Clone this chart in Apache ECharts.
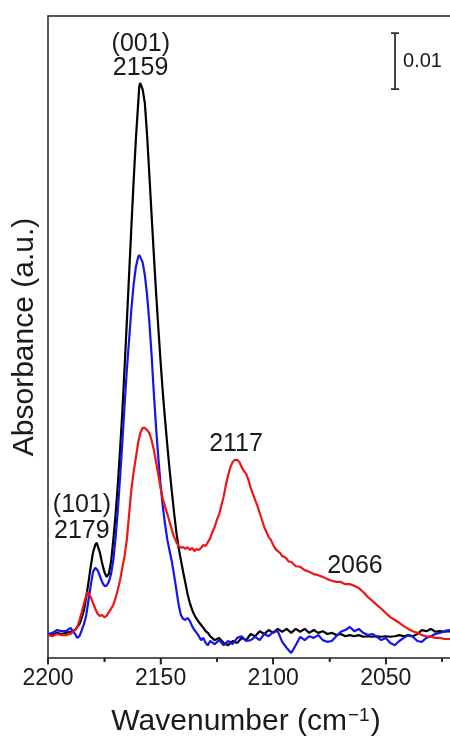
<!DOCTYPE html>
<html>
<head>
<meta charset="utf-8">
<script src="https://cdn.jsdelivr.net/npm/echarts@6/dist/echarts.min.js"></script>
<style>
html,body{margin:0;padding:0;background:#fff;}
#chart{width:450px;height:738px;}
</style>
</head>
<body>
<div id="chart"></div>
<script>
// Absorbance values in units of 1e-3 (mA); wavenumber in cm^-1
const blackSpectrum = [
[2200,0],[2198,-0.2],[2196,0.2],[2194,0],[2192,0.2],[2190,0.4],[2188,0.7],[2186,1.8],[2185,2.9],[2184,4.3],
[2183,6.6],[2182,9.3],[2181,12.1],[2180,14.6],[2179,15.9],[2178.4,16.3],[2178,16.1],[2177,14.6],[2176,12.7],[2175,11.1],
[2174,10.2],[2173,10.7],[2172,12.9],[2171,16.8],[2170,21.3],[2169,26.6],[2168,32.9],[2167,39.6],[2166,47.5],[2165,55.7],
[2164,64.1],[2163,72.5],[2162,80.7],[2161,88.2],[2160,94.5],[2159.5,97.6],[2159.1,98.4],[2158.6,98.2],[2158,97.3],[2157,94.8],[2156,89.1],
[2155,82.0],[2154,74.8],[2153,67.7],[2152,60.9],[2151,54.6],[2150,48.6],[2149,43.0],[2148,38.2],[2147,33.6],[2146,29.3],
[2145,25.4],[2144,21.6],[2143,18.2],[2142,15.4],[2141,13.2],[2140,11.1],[2139,9.1],[2138,7.1],[2137,5.5],[2136,4.3],
[2135,3.4],[2134,2.7],[2133,2.1],[2132,1.6],[2131,1.1],[2130,0.5],[2129,0.2],[2128,-0.4],[2126,-1.1],[2124,-0.7],
[2122,-1.6],[2120,-2.0],[2118,-1.25],[2116,-1.6],[2114,-0.7],[2112,-1.1],[2110,0],[2108,-0.4],[2106,0.5],[2104,0],
[2102,0.7],[2100,0.2],[2098,0.9],[2096,0.4],[2094,0.9],[2092,0.2],[2090,0.9],[2088,0.4],[2086,0.9],[2084,0.2],
[2082,0.7],[2080,0.2],[2078,0.5],[2076,0],[2074,0.2],[2072,-0.2],[2070,0],[2068,-0.4],[2066,-0.2],[2064,-0.4],
[2062,-0.2],[2060,-0.5],[2058,-0.4],[2056,-0.5],[2054,-0.4],[2052,-0.5],[2050,-0.4],[2048,-0.5],[2046,-0.4],[2044,-0.2],
[2042,-0.4],[2040,-0.2],[2038,-0.4],[2036,0],[2034,0.7],[2032,0.5],[2030,0.9],[2028,0.4],[2026,0.5],[2024,0.4],
[2022,0.5],[2020,0.4]
];
const blueSpectrum = [
[2200,0],[2198,0.2],[2196,0.7],[2194,0.5],[2192,0.5],[2190,1.1],[2188,0],[2187,-0.7],[2186,-0.4],[2185,0.7],
[2184,1.8],[2183,3.4],[2182,6.1],[2181,8.75],[2180,11.1],[2179,11.8],[2178,11.4],[2177,10.4],[2176,9.3],[2175,8.6],
[2174.5,8.4],[2174,8.6],[2173,9.3],[2172,10.7],[2171,13.2],[2170,17.1],[2169,22.1],[2168,27.9],[2167,34.1],[2166,40.9],
[2165,47.1],[2164,52.5],[2163,57.9],[2162,62.3],[2161,65.5],[2160,67.3],[2159.5,67.7],[2159,67.5],[2158,66.4],[2157,64.1],
[2156,60.5],[2155,55.7],[2154,49.8],[2153,43.0],[2152,36.8],[2151,31.4],[2150,26.6],[2149,22.7],[2148,19.5],[2147,16.8],
[2146,14.8],[2145,12.9],[2144,10.5],[2143,7.9],[2142,5.2],[2141,3.4],[2140,2.7],[2139,2.5],[2138,2.9],[2137,2.3],
[2136,1.4],[2135,0.7],[2134,0.2],[2133,-0.4],[2132,-1.1],[2131,-0.7],[2130,-1.6],[2129,-2.0],[2128,-1.25],[2126,-1.8],
[2124,-1.1],[2122,-2.0],[2120,-1.25],[2118,-1.8],[2116,-0.7],[2114,-0.4],[2112,-1.25],[2110,-1.1],[2108,-0.5],[2106,-1.1],
[2104,0],[2102,-0.4],[2100,0.4],[2098,0.5],[2096,-1.4],[2094,-2.5],[2092,-3.4],[2090,-2.0],[2088,-0.5],[2086,-1.1],
[2084,-0.4],[2082,-0.7],[2080,-0.2],[2078,-1.1],[2076,-1.4],[2074,-1.25],[2072,-0.4],[2070,0.4],[2068,0.7],[2066,1.25],
[2064,0.5],[2062,0.9],[2060,0.2],[2058,-0.2],[2056,0],[2054,-0.5],[2052,-1.1],[2050,-0.7],[2048,-1.6],[2046,-2.0],
[2044,-1.25],[2042,-0.7],[2040,-0.2],[2038,-0.5],[2036,-1.25],[2034,-1.4],[2032,-0.7],[2030,-0.4],[2028,0],[2026,0.2],
[2024,0.5],[2022,0.7],[2020,0.5]
];
const redSpectrum = [
[2200,-0.2],[2198,-0.4],[2196,0],[2194,-0.2],[2192,-0.2],[2190,0],[2188,0.7],[2187,1.25],[2186,2.5],[2185,3.9],
[2184,5.5],[2183,7.0],[2182.5,7.5],[2182,7.3],[2181,6.6],[2180,5.5],[2179,4.5],[2178,3.6],[2177,3.2],[2176,3.4],
[2175,3.0],[2174,3.2],[2173,3.9],[2172,4.5],[2171,5.2],[2170,6.4],[2169,7.9],[2168,9.6],[2167,11.8],[2166,13.9],
[2165,16.8],[2164,21.3],[2163,25.7],[2162,28.9],[2161,31.4],[2160,34.1],[2159,35.9],[2158,36.8],[2157.6,37.0],[2157,36.8],
[2156,36.4],[2155,35.9],[2154,34.6],[2153,32.9],[2152,30.7],[2151,28.4],[2150,26.1],[2149,24.1],[2148,22.7],[2147,21.4],
[2146,20.0],[2145,18.6],[2144,17.3],[2143,16.4],[2142,15.7],[2141,15.4],[2140,15.5],[2139,15.2],[2138,15.5],[2137,15.0],
[2136,15.4],[2135,14.8],[2134,15.2],[2133,15.0],[2132,15.4],[2131,15.9],[2130,15.7],[2129,16.4],[2128,17.1],[2127,18.2],
[2126,19.1],[2125,20.4],[2124,21.4],[2123,23.0],[2122,24.5],[2121,26.6],[2120,28.4],[2119,29.8],[2118,30.7],[2117,31.1],
[2116,31.1],[2115,30.7],[2114,29.8],[2113,29.1],[2112,28.6],[2111,27.5],[2110,26.1],[2109,25.0],[2108,23.9],[2107,22.9],
[2106,21.6],[2105,20.4],[2104,19.1],[2103,18.2],[2102,17.3],[2101,16.8],[2100,15.9],[2099,15.2],[2098,14.8],[2097,14.5],
[2096,13.9],[2095,13.75],[2094,13.4],[2093,12.9],[2092,12.9],[2091,12.5],[2090,12.1],[2088,12.0],[2086,11.4],[2084,11.1],
[2082,10.7],[2080,10.5],[2078,10.2],[2076,9.8],[2074,9.5],[2072,9.3],[2070,9.3],[2068,8.9],[2066,8.9],[2064,8.6],
[2062,8.2],[2060,7.5],[2058,6.6],[2056,5.9],[2054,5.2],[2052,4.5],[2050,3.75],[2048,3.0],[2046,2.5],[2044,2.0],
[2042,1.4],[2040,0.9],[2038,0.5],[2036,0.2],[2034,-0.2],[2032,-0.4],[2030,-0.5],[2028,-0.7],[2026,-0.7],[2024,-0.9],
[2022,-0.9],[2020,-0.9]
];
// peak annotations: text and position [wavenumber, absorbance(mA)]
const peakLabelTexts = ['(001)', '2159', '(101)', '2179', '2117', '2066'];
const peakLabelPositions = [[2158.8,105.4],[2158.9,101.0],[2184.9,23.0],[2185.0,18.4],[2116.5,33.9],[2063.7,12.2]];
// scale bar: 0.01 absorbance = 10 mA
const scaleBarLabel = '0.01';
const scaleBar = [[2045.9, 97.3, 107.3]];
// x axis: 2000..2200 (the figure is cropped at ~2021 by the page edge)
const xRange = [2000, 2200];
const xTickStep = 50;
const xTickLabels = [2200, 2150, 2100, 2050];
// tick marks: [wavenumber, 1 = major / 0 = minor]
const xTicks = [[2200,1],[2175,0],[2150,1],[2125,0],[2100,1],[2075,0],[2050,1],[2025,0]];
const yRange = [-4.29, 110.36];

const FONT = '"Liberation Sans", Arial, Helvetica, sans-serif';
const AXIS_COLOR = '#222222';
const TEXT_COLOR = '#1a1a1a';
const chart = echarts.init(document.getElementById('chart'), null, {renderer:'canvas'});

function lineSeries(name, data, color, z){
  return {name:name, type:'line', data:data, showSymbol:false, symbol:'none',
    lineStyle:{color:color, width:2.2}, z:z, animation:false, silent:true, clip:true};
}

chart.setOption({
  animation:false,
  backgroundColor:'#ffffff',
  grid:{left:48, top:16, width:450.4, height:642, containLabel:false, outerBoundsMode:'none'},
  xAxis:[{
    type:'value', inverse:true, min:xRange[0], max:xRange[1], interval:xTickStep, position:'bottom',
    axisLine:{show:true, onZero:false, lineStyle:{color:AXIS_COLOR, width:1.5}},
    axisTick:{show:true, inside:false, length:6, lineStyle:{color:AXIS_COLOR, width:1.5}},
    minorTick:{show:true, splitNumber:2, length:3.5, lineStyle:{color:AXIS_COLOR, width:1.5}},
    splitLine:{show:false}, minorSplitLine:{show:false},
    axisLabel:{show:true, margin:9, fontSize:23, fontFamily:FONT, color:TEXT_COLOR,
      formatter:function(v){ return xTickLabels.indexOf(v) >= 0 ? String(v) : ''; }}
  },{
    type:'value', inverse:true, min:xRange[0], max:xRange[1], position:'top',
    axisLine:{show:true, onZero:false, lineStyle:{color:AXIS_COLOR, width:1.5}},
    axisTick:{show:false}, axisLabel:{show:false}, splitLine:{show:false}
  }],
  yAxis:{
    type:'value', min:yRange[0], max:yRange[1],
    axisLine:{show:true, onZero:false, lineStyle:{color:AXIS_COLOR, width:1.5}},
    axisTick:{show:false}, axisLabel:{show:false}, splitLine:{show:false},
    name:'Absorbance (a.u.)', nameLocation:'middle', nameGap:8, nameRotate:90,
    nameTextStyle:{fontSize:30, fontFamily:FONT, color:TEXT_COLOR}
  },
  series:[
    lineSeries('black', blackSpectrum, '#000000', 3),
    lineSeries('blue', blueSpectrum, '#1414f0', 4),
    lineSeries('red', redSpectrum, '#f01414', 5),
    {
      type:'custom', name:'labels', silent:true, animation:false, z:10, clip:false,
      data:peakLabelPositions,
      renderItem:function(params, api){
        var p = api.coord([api.value(0), api.value(1)]);
        return {type:'text', x:p[0], y:p[1],
          style:{text:peakLabelTexts[params.dataIndex], font:'25px ' + FONT, fill:TEXT_COLOR,
            align:'center', verticalAlign:'middle'}};
      }
    },
    {
      type:'custom', name:'scalebar', silent:true, animation:false, z:10, clip:false,
      data:scaleBar,
      renderItem:function(params, api){
        var lo = api.coord([api.value(0), api.value(1)]);
        var hi = api.coord([api.value(0), api.value(2)]);
        var st = {stroke:'#333333', lineWidth:1.8};
        return {type:'group', children:[
          {type:'line', shape:{x1:lo[0], y1:lo[1], x2:hi[0], y2:hi[1]}, style:st},
          {type:'line', shape:{x1:lo[0]-4, y1:lo[1], x2:lo[0]+4, y2:lo[1]}, style:st},
          {type:'line', shape:{x1:hi[0]-4, y1:hi[1], x2:hi[0]+4, y2:hi[1]}, style:st},
          {type:'text', x:lo[0]+8, y:(lo[1]+hi[1])/2,
            style:{text:scaleBarLabel, font:'20px ' + FONT, fill:TEXT_COLOR, align:'left', verticalAlign:'middle'}}
        ]};
      }
    }
  ]
});

// axis title and tick marks placed through the chart's own coordinate conversion
var graphics = [{
  type:'text', x:246, y:722, z:100,
  style:{text:'Wavenumber (cm{sup|\u22121})', font:'30px ' + FONT, fill:TEXT_COLOR,
    align:'center', verticalAlign:'middle',
    rich:{sup:{fontSize:19, fontFamily:FONT, fill:TEXT_COLOR, verticalAlign:'top', padding:[0,1,12,1]}}}
}];
xTicks.forEach(function(t){
  var p = chart.convertToPixel({xAxisIndex:0, yAxisIndex:0}, [t[0], yRange[0]]);
  var len = t[1] ? 6.5 : 4;
  graphics.push({type:'line', z:100, silent:true,
    shape:{x1:p[0], y1:p[1], x2:p[0], y2:p[1] + len},
    style:{stroke:AXIS_COLOR, lineWidth:1.6}});
});
chart.setOption({graphic:graphics});
</script>
</body>
</html>
